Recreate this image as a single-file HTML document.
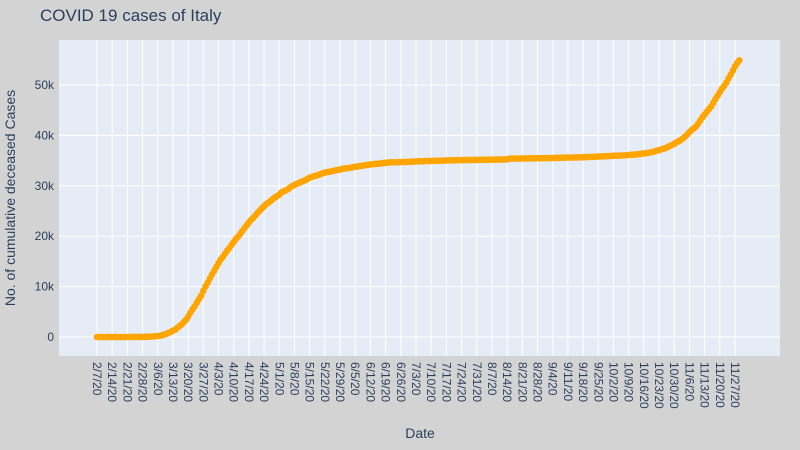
<!DOCTYPE html>
<html><head><meta charset="utf-8"><style>
html,body{margin:0;padding:0;background:#d3d3d3;}
svg{display:block;font-family:"Liberation Sans",Arial,sans-serif;}
</style></head><body>
<svg id="chart" width="800" height="450">
<rect x="0" y="0" width="800" height="450" fill="#d3d3d3"/>
<rect x="59" y="40" width="721" height="316" fill="#e5ecf6"/>
<g id="grid"></g>
<g id="xticks"></g>
<g id="yticks"></g>
<g id="series"></g>
<text x="40" y="21" font-size="17" fill="#2a3f5f">COVID 19 cases of Italy</text>
<text x="420" y="438" font-size="14" fill="#2a3f5f" text-anchor="middle">Date</text>
<text transform="translate(15,198) rotate(-90)" font-size="14" fill="#2a3f5f" text-anchor="middle">No. of cumulative deceased Cases</text>
</svg>
<script>
const startDate = [2020, 2, 7];
const deaths = [0,0,0,0,0,0,0,0,0,0,0,0,0,0,
1,2,3,7,10,12,17,21,29,
34,52,79,107,148,197,233,366,463,631,827,1016,1266,1441,1809,2158,2503,2978,3405,4032,4825,5476,6077,6820,7503,8215,9134,10023,10779,11591,12428,
13155,13915,14681,15362,15887,16523,17127,17669,18279,18849,19468,19899,20465,21067,21645,22170,22745,23227,23660,24114,24648,25085,25549,25969,26384,26644,26977,27359,27682,27967,
28236,28710,28884,29079,29315,29684,29958,30201,30395,30560,30739,30911,31106,31368,31610,31763,31908,32007,32169,32330,32486,32616,32735,32785,32877,32955,33072,33142,33229,33340,33415,
33475,33530,33601,33689,33774,33846,33899,33964,34043,34114,34167,34223,34301,34345,34371,34405,34448,34514,34561,34610,34634,34657,34675,34644,34678,34708,34716,34738,34744,34767,
34788,34818,34833,34854,34861,34869,34899,34914,34926,34938,34945,34954,34967,34984,34997,35017,35028,35042,35045,35058,35073,35082,35092,35097,35102,35107,35112,35123,35129,35132,35141,
35146,35154,35166,35171,35181,35187,35190,35203,35205,35209,35215,35225,35231,35234,35392,35396,35400,35405,35412,35418,35427,35430,35437,35438,35445,35458,35463,35472,35473,35477,35483,
35491,35497,35507,35518,35534,35541,35553,35563,35587,35597,35603,35610,35617,35624,35633,35645,35658,35668,35692,35707,35724,35738,35758,35781,35801,35818,35835,35851,35875,35894,
35918,35941,35968,35986,36002,36030,36061,36083,36111,36140,36166,36205,36246,36289,36372,36427,36474,36543,36616,36705,36832,36968,37059,37210,37338,37479,37700,37905,38122,38321,38618,
38826,39059,39412,39764,40192,40638,41063,41394,41750,42330,42953,43589,44139,44683,45229,45733,46464,47217,47870,48569,49261,49823,50453,51306,52028,52850,53677,54363,54904];
const yTickValues = [0,10000,20000,30000,40000,50000];
const yTickLabels = ["0","10k","20k","30k","40k","50k"];

const NS = "http://www.w3.org/2000/svg";
const x = i => 97 + i * 2.17;
const y = v => 337 - v * 50.4 / 10000;
function mk(tag, attrs, parent){const e=document.createElementNS(NS,tag);for(const k in attrs)e.setAttribute(k,attrs[k]);parent.appendChild(e);return e;}
const grid=document.getElementById('grid'), xt=document.getElementById('xticks'), yt=document.getElementById('yticks'), ser=document.getElementById('series');
function label(i){const d=new Date(startDate[0],startDate[1]-1,startDate[2]+i);return (d.getMonth()+1)+"/"+d.getDate()+"/"+String(d.getFullYear()).slice(2);}
yTickValues.forEach((v,k)=>{
  const l=mk('line',{x1:59,x2:780,y1:y(v),y2:y(v),stroke:'#fff','stroke-width':1},grid);
  
  
  const t=mk('text',{x:54,y:y(v)+4,'font-size':12,fill:'#2a3f5f','text-anchor':'end'},yt);
  t.textContent=yTickLabels[k];
  
  
});
for(let i=0;i<deaths.length;i+=7){
  const l=mk('line',{x1:x(i),x2:x(i),y1:40,y2:356,stroke:'#fff','stroke-width':1},grid);
  
  
  const t=mk('text',{transform:`translate(${x(i)-4},362) rotate(90)`,'font-size':12,fill:'#2a3f5f'},xt);
  t.textContent=label(i);
  
  
}
const pl=mk('polyline',{points:deaths.map((v,i)=>x(i)+','+y(v)).join(' '),fill:'none',stroke:'orange','stroke-width':2},ser);


deaths.forEach((v,i)=>{
  const c=mk('circle',{cx:x(i),cy:y(v),r:3.3,fill:'orange'},ser);
  
  
});
</script>
</body></html>
